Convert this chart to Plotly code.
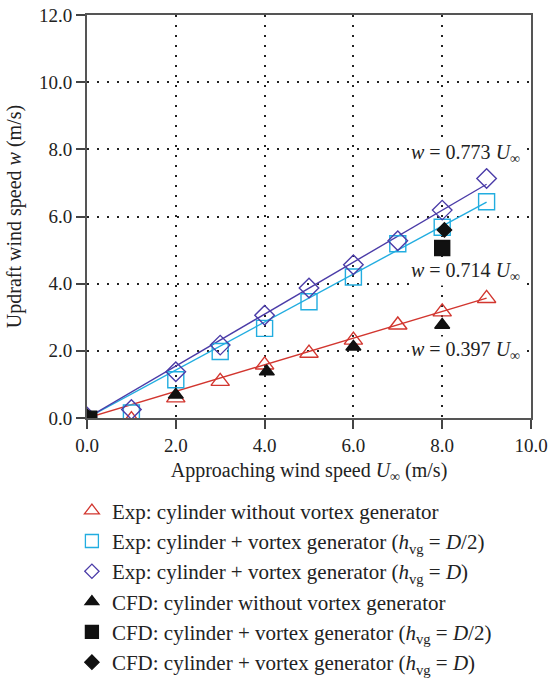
import plotly.graph_objects as go

# ---- data ----
speeds = [0, 1, 2, 3, 4, 5, 6, 7, 8, 9]
exp_no_vg = [-0.05, -0.05, 0.6, 1.09, 1.58, 1.93, 2.32, 2.77, 3.16, 3.56]
exp_vg_half = [-0.05, 0.15, 1.14, 1.98, 2.67, 3.46, 4.2, 5.19, 5.68, 6.44]
exp_vg_full = [0.03, 0.25, 1.38, 2.17, 3.06, 3.87, 4.56, 5.28, 6.19, 7.13]

cfd_no_vg_x = [0, 2, 4.05, 6, 8]
cfd_no_vg_y = [0.0, 0.69, 1.38, 2.12, 2.77]
cfd_vg_half_x = [0.05, 8]
cfd_vg_half_y = [-0.02, 5.06]
cfd_vg_full_x = [0.0, 8.05]
cfd_vg_full_y = [0.05, 5.6]

fit_x = [0, 9]
fit_no_vg = [0, 3.57]
fit_vg_half = [0, 6.43]
fit_vg_full = [0, 6.96]

fit_labels = ["0.773", "0.714", "0.397"]
fit_label_y = [7.88, 4.36, 2.02]

x_ticks = [0, 2, 4, 6, 8, 10]
y_ticks = [0, 2, 4, 6, 8, 10, 12]

series_names = [
    "Exp: cylinder without vortex generator",
    "Exp: cylinder + vortex generator (<i>h</i><sub>vg</sub> = <i>D</i>/2)",
    "Exp: cylinder + vortex generator (<i>h</i><sub>vg</sub> = <i>D</i>)",
    "CFD: cylinder without vortex generator",
    "CFD: cylinder + vortex generator (<i>h</i><sub>vg</sub> = <i>D</i>/2)",
    "CFD: cylinder + vortex generator (<i>h</i><sub>vg</sub> = <i>D</i>)",
]

RED = "#d2362f"
CYAN = "#22ade0"
PURPLE = "#4b3ca8"
BLACK = "#111111"
FONT = "Liberation Serif, DejaVu Serif, serif"

# (x, y, symbol, plot size, colour, legend size)
series = [
    (speeds, exp_no_vg, "triangle-up-open", 16, RED, 13),
    (speeds, exp_vg_half, "square-open", 16, CYAN, 13),
    (speeds, exp_vg_full, "diamond-open", 15, PURPLE, 11),
    (cfd_no_vg_x, cfd_no_vg_y, "triangle-up", 13, BLACK, 12),
    (cfd_vg_half_x, cfd_vg_half_y, "square", 15, BLACK, 13),
    (cfd_vg_full_x, cfd_vg_full_y, "diamond", 11, BLACK, 11),
]

fig = go.Figure()

# fit lines (no legend)
for fy, col in [(fit_no_vg, RED), (fit_vg_half, CYAN), (fit_vg_full, PURPLE)]:
    fig.add_trace(go.Scatter(x=fit_x, y=fy, mode="lines", line=dict(color=col, width=1.4),
                             showlegend=False, hoverinfo="skip"))

for (sx, sy, sym, size, col, lsize), name in zip(series, series_names):
    fig.add_trace(go.Scatter(x=sx, y=sy, mode="markers", name=name, showlegend=False,
                             marker=dict(symbol=sym, size=size, color=col, line=dict(width=1.4, color=col))))

# legend entries (same styles, legend-sized symbols)
for i, ((sx, sy, sym, size, col, lsize), name) in enumerate(zip(series, series_names)):
    fig.add_trace(go.Scatter(x=[None], y=[None], mode="markers", name=name, legendgroup=f"g{i}",
                             marker=dict(symbol=sym, size=lsize, color=col, line=dict(width=1.3, color=col))))

for lab, ly in zip(fit_labels, fit_label_y):
    fig.add_annotation(x=9.8, y=ly, xref="x", yref="y", xanchor="right", yanchor="middle",
                       text="<i>w</i> = " + lab + " <i>U</i><sub>∞</sub>", showarrow=False,
                       font=dict(family=FONT, size=20, color="#222"), bgcolor="white")

axis_common = dict(
    showline=True, linecolor="#555555", linewidth=2, mirror=True,
    showgrid=True, gridcolor="#222222", gridwidth=1.5, griddash="1.5px,8.5px",
    zeroline=False, ticks="outside", ticklen=9, tickcolor="#444444", tickwidth=1.5,
    tickfont=dict(family=FONT, size=19, color="#222"), automargin=False,
)

fig.update_layout(
    width=549, height=680,
    paper_bgcolor="white", plot_bgcolor="white",
    margin=dict(l=87, r=18, t=15, b=262, autoexpand=False),
    font=dict(family=FONT, size=20, color="#222"),
    xaxis=dict(range=[0, 10], tickvals=x_ticks, ticktext=[f"{v:.1f}" for v in x_ticks],
               title=dict(text="Approaching wind speed <i>U</i><sub>∞</sub> (m/s)",
                          font=dict(family=FONT, size=20, color="#222"), standoff=8),
               **axis_common),
    yaxis=dict(range=[0, 12], tickvals=y_ticks, ticktext=[f"{v:.1f}" for v in y_ticks],
               title=dict(text="Updraft wind speed <i>w</i> (m/s)",
                          font=dict(family=FONT, size=20, color="#222"), standoff=12),
               **axis_common),
    showlegend=True,
    legend=dict(x=-0.034, xanchor="left", y=-0.18, yanchor="top", orientation="v",
                font=dict(family=FONT, size=21, color="#222"), tracegroupgap=0,
                bgcolor="rgba(0,0,0,0)"),
)

fig.write_html("out.html", config={"displayModeBar": False},
               post_script="document.body.style.margin='0';document.body.style.overflow='hidden';")
